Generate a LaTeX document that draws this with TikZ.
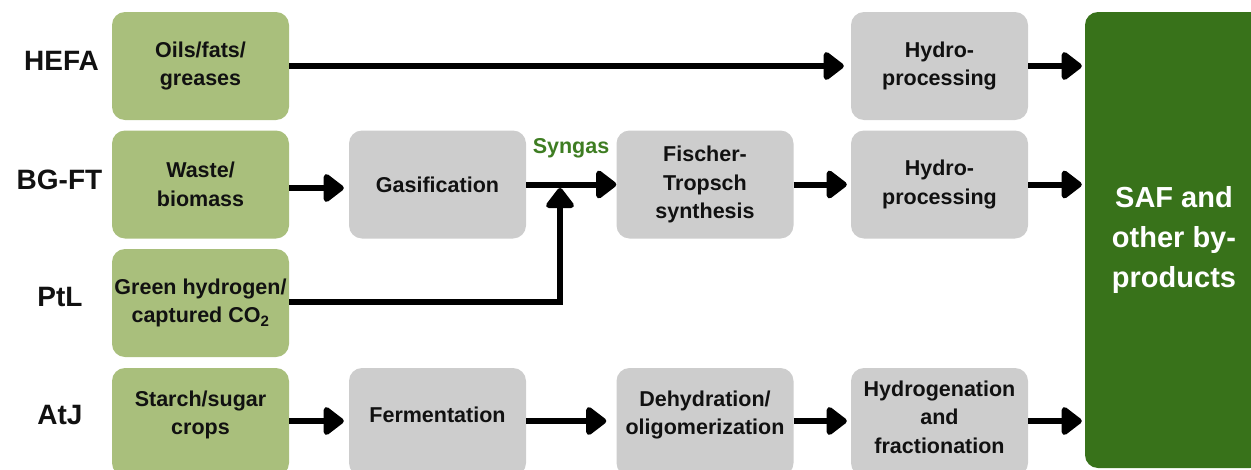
\documentclass[tikz,border=0pt]{standalone}
\usepackage{fontspec}
\setmainfont{Liberation Sans}
\usetikzlibrary{arrows.meta}
\definecolor{feed}{HTML}{A9BF7C}
\definecolor{proc}{HTML}{CDCDCD}
\definecolor{safgreen}{HTML}{38721A}
\definecolor{syngreen}{HTML}{3E7D22}
\definecolor{txt}{HTML}{111111}
\tikzset{
  basebox/.style={rounded corners=13pt, minimum width=177pt, minimum height=108pt,
    align=center, inner sep=2pt, text=txt,
    font=\fontsize{21.5}{28.5}\selectfont\bfseries},
  feedbox/.style={basebox, fill=feed},
  procbox/.style={basebox, fill=proc},
  rowlabel/.style={font=\fontsize{28}{32}\selectfont\bfseries, text=txt, inner sep=0pt},
  arr/.style={line width=6pt, draw=black, -{Triangle[length=22pt,width=32pt,round]}}
}
\begin{document}
\begin{tikzpicture}[x=1pt,y=-1pt]
\useasboundingbox (0,0) rectangle (1251,469);

% row labels
\node[rowlabel] (lhefa) at (61.5,61) {HEFA};
\node[rowlabel] (lbgft) at (59.5,180) {BG-FT};
\node[rowlabel] (lptl) at (60,297) {PtL};
\node[rowlabel] (latj) at (60,415) {AtJ};

% feedstock boxes
\node[feedbox] (oils) at (200.5,66) {Oils/fats/\\greases};
\node[feedbox] (waste) at (200.5,184.5) {Waste/\\biomass};
\node[feedbox] (green) at (200.5,303) {Green hydrogen/\\captured CO\textsubscript{2}};
\node[feedbox, text depth=19pt] (starch) at (200.5,422) {Starch/sugar\\crops};

% process boxes
\node[procbox] (gas) at (437.5,184.5) {Gasification};
\node[procbox] (ft) at (705,184.5) {Fischer-\\Tropsch\\synthesis};
\node[procbox] (hydro1) at (939.5,66) {Hydro-\\processing};
\node[procbox] (hydro2) at (939.5,184.5) {Hydro-\\processing};
\node[procbox, text depth=14pt] (ferm) at (437.5,422) {Fermentation};
\node[procbox, text depth=19pt] (dehyd) at (705,422) {Dehydration/\\oligomerization};
\node[procbox, text depth=10pt] (hydrog) at (939.5,422) {Hydrogenation\\and\\fractionation};

% product box
\node[rounded corners=13pt, fill=safgreen, minimum width=178pt, minimum height=456pt,
  align=center, text=white, font=\fontsize{29}{40}\selectfont\bfseries] (saf) at (1174,240)
  {SAF and\\other by-\\products};

% syngas label
\node[anchor=base, text=syngreen, inner sep=0pt, font=\fontsize{21.5}{26}\selectfont\bfseries] (syngas) at (571,153) {Syngas};

% connectors
\coordinate (join) at (560,188);
\draw[arr, shorten >=7pt] (oils) -- (hydro1);
\draw[arr, shorten >=3pt] (hydro1.east) -- (hydro1.east -| saf.west);
\draw[arr, shorten >=5pt] ([yshift=-3.5pt]waste.east) -- ([yshift=-3.5pt]gas.west);
\draw[arr] (gas) -- (ft);
\draw[arr] ([yshift=1.5pt]green.east) -| (join);
\draw[arr, shorten >=4pt] (ft) -- (hydro2);
\draw[arr, shorten >=3pt] (hydro2.east) -- (hydro2.east -| saf.west);
\draw[arr, shorten >=5pt] ([yshift=1pt]starch.east) -- ([yshift=1pt]ferm.west);
\draw[arr, shorten >=10pt] ([yshift=1pt]ferm.east) -- ([yshift=1pt]dehyd.west);
\draw[arr, shorten >=4pt] ([yshift=1pt]dehyd.east) -- ([yshift=1pt]hydrog.west);
\draw[arr, shorten >=3pt] ([yshift=1pt]hydrog.east) -- ([yshift=1pt]hydrog.east -| saf.west);
\end{tikzpicture}
\end{document}
